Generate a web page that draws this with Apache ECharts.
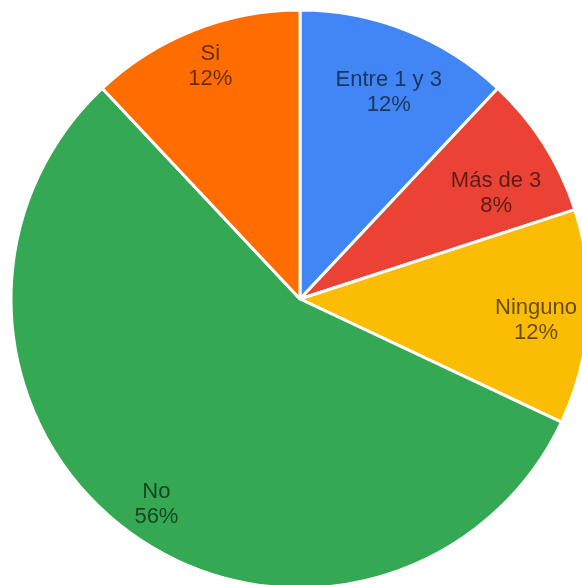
<!DOCTYPE html>
<html>
<head>
<meta charset="utf-8">
<style>
  html, body { margin: 0; padding: 0; background: #ffffff; }
  #chart { width: 582px; height: 585px; }
</style>
<script src="https://cdn.jsdelivr.net/npm/echarts@6/dist/echarts.min.js"></script>
</head>
<body>
<div id="chart"></div>
<script>
// Answer categories, clockwise from 12 o'clock
const categories = ['Entre 1 y 3', 'Más de 3', 'Ninguno', 'No', 'Si'];
// Share of responses (%)
const shares = [12, 8, 12, 56, 12];
const sliceColors = ['#4285F4', '#EA4335', '#FBBC04', '#34A853', '#FF6D01'];

const center = [300, 299];
const outerRadius = 289;

// Label rings: each ring's midpoint sets how far out its labels sit.
const labelRings = [
  { inner: 160, names: ['Entre 1 y 3', 'Más de 3'] },
  { inner: 184, names: ['Ninguno'] },
  { inner: 214, names: ['No', 'Si'] }
];
// small nudges so each label sits nicely inside its slice
const labelOffsets = {
  'Entre 1 y 3': [5, 5],
  'Más de 3': [4, 16],
  'Ninguno': [-3, 6],
  'No': [6, 0],
  'Si': [4, 4]
};

const labelStyle = {
  position: 'inside',
  formatter: p => p.name + '\n' + p.value + '%',
  color: 'rgba(0,0,0,0.6)',
  fontFamily: 'Liberation Sans, Arial, sans-serif',
  fontSize: 22,
  lineHeight: 25,
  align: 'center'
};

const ringSeries = labelRings.map(ring => ({
  type: 'pie',
  center: center,
  radius: [ring.inner, outerRadius],
  startAngle: 90,
  clockwise: true,
  silent: true,
  itemStyle: { color: 'rgba(0,0,0,0)', borderWidth: 0 },
  labelLine: { show: false },
  label: Object.assign({ show: true }, labelStyle),
  data: categories.map((name, i) => ({
    name: name,
    value: shares[i],
    label: ring.names.includes(name)
      ? { show: true, offset: labelOffsets[name] || [0, 0] }
      : { show: false }
  }))
}));

const chart = echarts.init(document.getElementById('chart'));
chart.setOption({
  backgroundColor: '#ffffff',
  animation: false,
  series: [
    {
      // the slices themselves
      type: 'pie',
      center: center,
      radius: [0, outerRadius],
      startAngle: 90,
      clockwise: true,
      data: categories.map((name, i) => ({
        name: name,
        value: shares[i],
        itemStyle: { color: sliceColors[i] }
      })),
      itemStyle: { borderColor: '#ffffff', borderWidth: 3 },
      label: { show: false },
      labelLine: { show: false },
      silent: true
    }
  ].concat(ringSeries)
});
</script>
</body>
</html>
